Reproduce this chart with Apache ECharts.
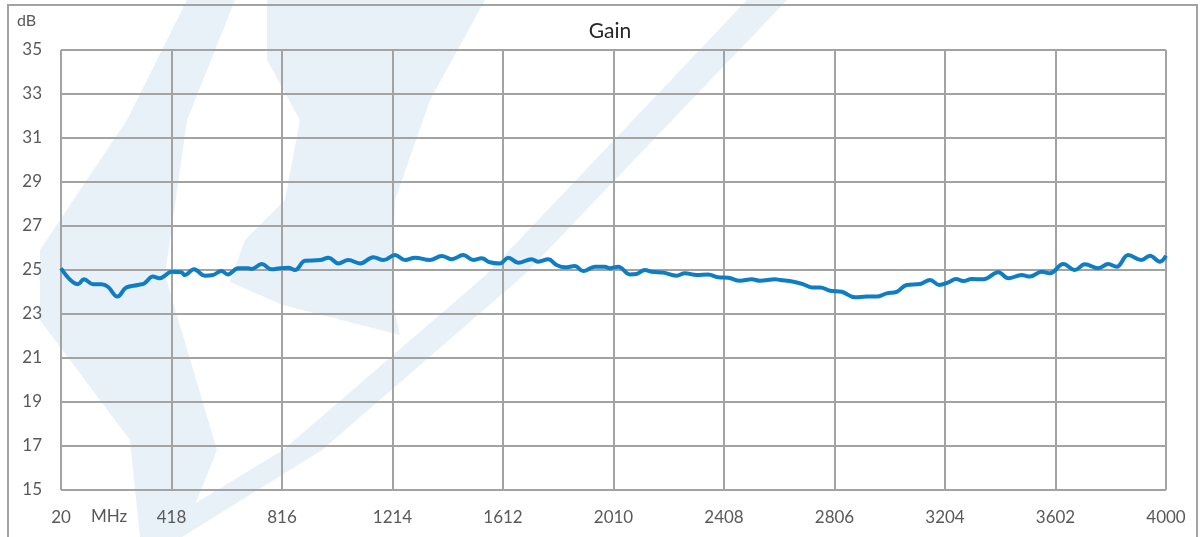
<!DOCTYPE html>
<html>
<head>
<meta charset="utf-8">
<script src="https://cdn.jsdelivr.net/npm/echarts@6/dist/echarts.min.js"></script>
<style>
html,body{margin:0;padding:0;background:#fff;}
#chart{width:1204px;height:537px;}
</style>
</head>
<body>
<div id="chart"></div>
<script>
// Frequency (MHz) sample points
const freqs = [20, 81, 103, 135, 165, 189, 223, 255, 297, 321, 351, 375, 394, 417, 453, 466, 499, 538, 567, 597, 621, 658, 694,
  707, 743, 779, 809, 839, 863, 899, 953, 983, 1019, 1055, 1097, 1145, 1181, 1223, 1259, 1295, 1349,
  1391, 1427, 1469, 1505, 1535, 1565, 1601, 1631, 1667, 1715, 1739, 1775, 1805, 1835, 1871, 1901, 1943, 1979, 1997,
  2027, 2069, 2093, 2123, 2148, 2189, 2237, 2267, 2310, 2351, 2387, 2423, 2466, 2508, 2538, 2592, 2610,
  2658, 2694, 2724, 2754, 2790, 2832, 2880, 2922, 2958, 2994, 3030, 3066, 3114, 3150, 3183, 3216, 3244, 3270,
  3300, 3342, 3396, 3432, 3480, 3510, 3552, 3582, 3630, 3672, 3708, 3756, 3792, 3822, 3864, 3912, 3942, 3978, 4000];
// Gain (dB)
const gains = [25.08, 24.35, 24.58, 24.35, 24.35, 24.24, 23.79, 24.2, 24.32, 24.4, 24.7, 24.62, 24.74, 24.92, 24.9, 24.77, 25.03, 24.74, 24.77, 24.95, 24.8, 25.08, 25.08,
  25.05, 25.27, 25.03, 25.08, 25.1, 25.0, 25.42, 25.45, 25.56, 25.3, 25.45, 25.3, 25.58, 25.45, 25.68, 25.45, 25.56, 25.45,
  25.64, 25.49, 25.68, 25.45, 25.53, 25.35, 25.3, 25.56, 25.33, 25.49, 25.38, 25.49, 25.23, 25.12, 25.18, 24.95, 25.15, 25.15, 25.08,
  25.15, 24.8, 24.82, 25.0, 24.92, 24.88, 24.74, 24.85, 24.77, 24.8, 24.67, 24.65, 24.51, 24.58, 24.51, 24.58, 24.55,
  24.47, 24.35, 24.21, 24.21, 24.06, 24.01, 23.76, 23.79, 23.79, 23.94, 24.01, 24.32, 24.36, 24.55, 24.32, 24.44, 24.59, 24.5,
  24.59, 24.58, 24.9, 24.62, 24.77, 24.7, 24.92, 24.85, 25.27, 25.0, 25.26, 25.08, 25.27, 25.15, 25.68, 25.45, 25.65, 25.38, 25.65];

const title = 'Gain';
const yUnit = 'dB';
const xUnit = 'MHz';
const xMin = 20, xMax = 4000, xStep = 398;
const yMin = 15, yMax = 35, yStep = 2;

const data = freqs.map((f, i) => [f, gains[i]]);
const font = 'Lato, "Open Sans", sans-serif';
const gridColor = '#a3a3a3';
const labelColor = '#595959';
const wm = '#e8f0f8';

const chart = echarts.init(document.getElementById('chart'), null, {renderer: 'canvas'});
chart.setOption({
  animation: false,
  backgroundColor: '#ffffff',
  title: {
    text: title, left: 605, top: 16, textAlign: 'center',
    textStyle: {fontFamily: font, fontSize: 21, fontWeight: 'normal', color: '#262626'}
  },
  grid: {left: 61, right: 38, top: 50, bottom: 47, containLabel: false},
  xAxis: {
    type: 'value', min: xMin, max: xMax, interval: xStep,
    axisLine: {show: false}, axisTick: {show: false},
    splitLine: {show: true, lineStyle: {color: gridColor, width: 2}},
    axisLabel: {fontFamily: font, fontSize: 17, color: labelColor, margin: 19, formatter: v => String(v)}
  },
  yAxis: {
    type: 'value', min: yMin, max: yMax, interval: yStep,
    axisLine: {show: false}, axisTick: {show: false},
    splitLine: {show: true, lineStyle: {color: gridColor, width: 2}},
    axisLabel: {fontFamily: font, fontSize: 17, color: labelColor, margin: 19, formatter: v => String(v)}
  },
  graphic: [
    {type: 'polygon', silent: true, z: -100, smooth: 0.2,
      shape: {points: [[747,0],[787,0],[524,275],[322,450],[182,537],[140,537],[283,450],[486,275]]}, style: {fill: wm}},
    {type: 'polygon', silent: true, z: -100,
      shape: {points: [[187,0],[235,0],[187,120],[165,275],[217,450],[182,537],[140,537],[130,440],[40,320],[40,250],[127,120]]}, style: {fill: wm}},
    {type: 'polygon', silent: true, z: -100,
      shape: {points: [[267,0],[485,0],[430,100],[395,200],[392,300],[400,335],[283,305],[230,282],[245,240],[285,200],[300,120],[267,60]]}, style: {fill: wm}},
    {type: 'rect', silent: true, z: -1, shape: {x: 8, y: 5, width: 1189, height: 545},
      style: {fill: 'none', stroke: gridColor, lineWidth: 2}},
    {type: 'text', left: 17, top: 13, style: {text: yUnit, fontFamily: font, fontSize: 16, fill: labelColor}},
    {type: 'text', left: 91, top: 508, style: {text: xUnit, fontFamily: font, fontSize: 17, fill: labelColor}}
  ],
  series: [{
    type: 'line', data: data, smooth: 0.4, showSymbol: false,
    lineStyle: {color: '#0e7dc3', width: 4}
  }]
});
</script>
</body>
</html>
